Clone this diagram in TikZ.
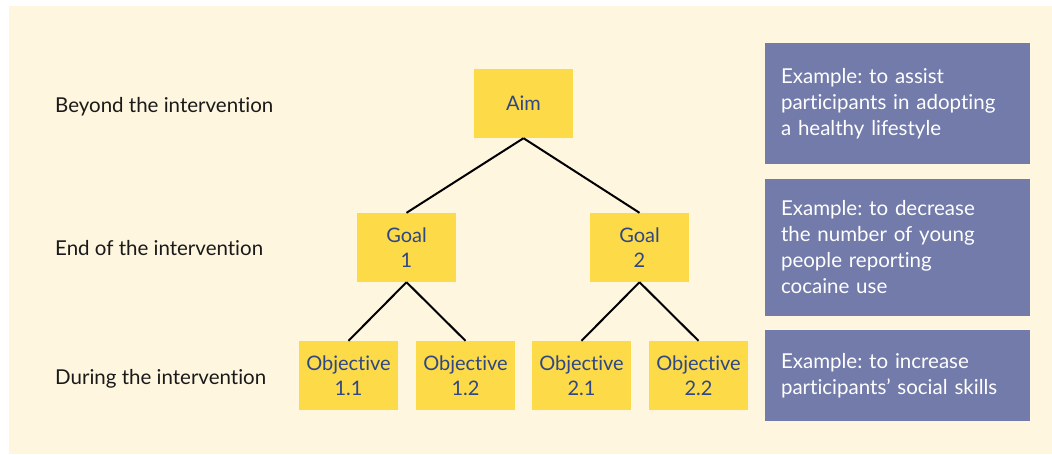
\documentclass[tikz,border=0pt]{standalone}
\usepackage{fontspec}
\setmainfont{Lato}[Ligatures={NoCommon}]
\frenchspacing
\definecolor{cream}{HTML}{FEF6DF}
\definecolor{boxyellow}{HTML}{FDDA47}
\definecolor{boxtext}{HTML}{2F4785}
\definecolor{expurple}{HTML}{737BAA}
\definecolor{labeltext}{HTML}{1A1A1A}
\begin{document}
\begin{tikzpicture}[x=1pt,y=-1pt,
  treebox/.style={fill=boxyellow, draw=none, minimum width=99pt, minimum height=69pt, inner sep=0pt,
    align=center, text=boxtext, font=\fontsize{20}{25}\selectfont},
  exbox/.style={fill=expurple, draw=none, minimum width=265pt, inner xsep=16pt, inner ysep=0pt,
    text width=233pt, align=left, text=white, font=\fontsize{20.5}{26}\selectfont},
  level/.style={anchor=base west, text=labeltext, font=\fontsize{20.5}{25}\selectfont, inner sep=0pt},
  link/.style={draw=black, line width=2pt}]
\useasboundingbox (0,0) rectangle (1052,455);
\fill[cream] (9,6) rectangle (1052,454);
% tree
\node[treebox] (aim) at (523.5,103.5) {Aim};
\node[treebox] (g1) at (406.5,247.5) {Goal\\1};
\node[treebox] (g2) at (639.5,247.5) {Goal\\2};
\node[treebox] (o11) at (348.5,375.5) {Objective\\1.1};
\node[treebox] (o12) at (465.5,375.5) {Objective\\1.2};
\node[treebox] (o21) at (581.5,375.5) {Objective\\2.1};
\node[treebox] (o22) at (698.5,375.5) {Objective\\2.2};
\draw[link] (aim.south) -- (g1.north);
\draw[link] (aim.south) -- (g2.north);
\draw[link] (g1.south) -- (o11.north);
\draw[link] (g1.south) -- (o12.north);
\draw[link] (g2.south) -- (o21.north);
\draw[link] (g2.south) -- (o22.north);
% level labels
\node[level] (l1) at (55,112) {Beyond the intervention};
\node[level] (l2) at (55,255.5) {End of the intervention};
\node[level] (l3) at (55,384) {During the intervention};
% examples
\node[exbox, minimum height=121pt] (e1) at (897.5,103.5) {Example: to assist\\participants in adopting\\a healthy lifestyle};
\node[exbox, minimum height=137pt] (e2) at (897.5,247.5) {Example: to decrease\\the number of young\\people reporting\\cocaine use};
\node[exbox, minimum height=91pt] (e3) at (897.5,375.5) {Example: to increase\\participants' social skills};
\end{tikzpicture}
\end{document}
